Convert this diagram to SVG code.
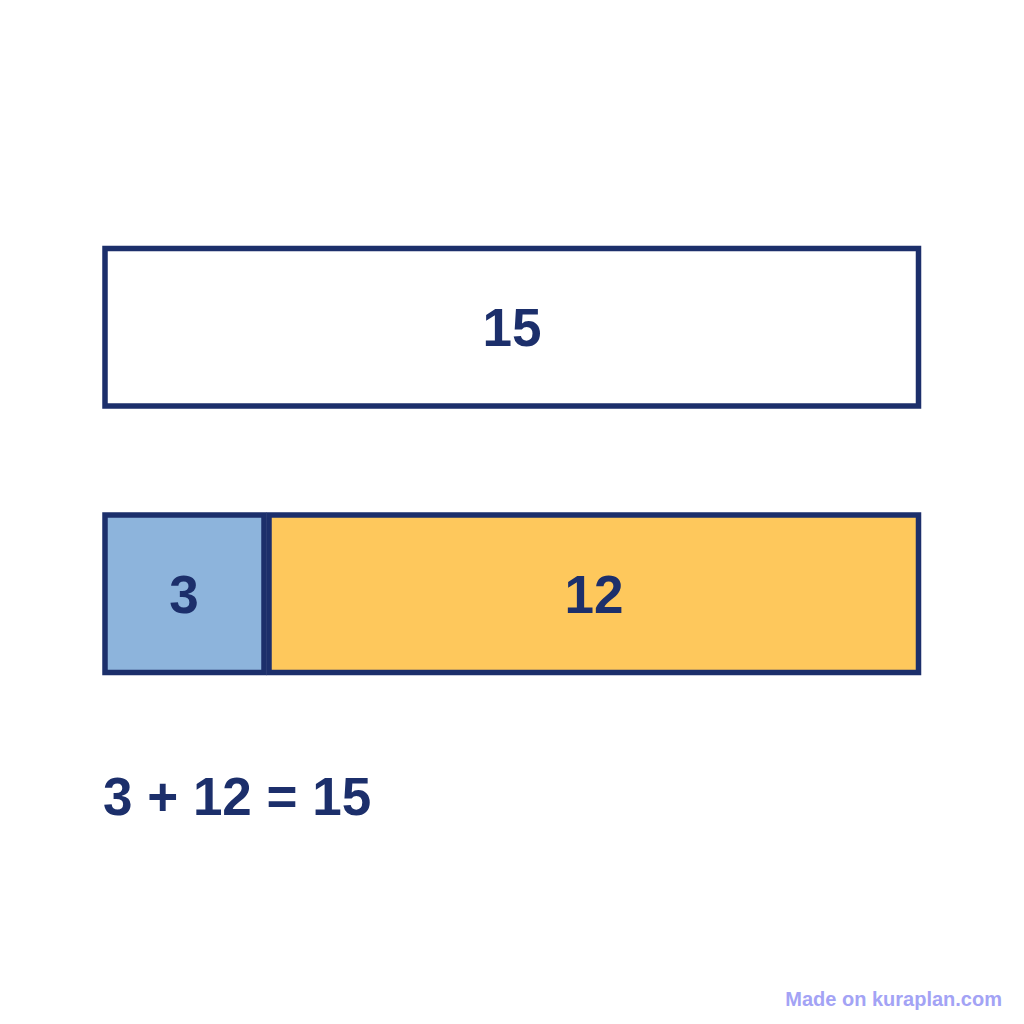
<svg xmlns="http://www.w3.org/2000/svg" width="1024" height="1024" viewBox="0 0 1024 1024">
<style>
.box{stroke:#1c2f6b;stroke-width:5.5}
.lbl{font-family:"Liberation Sans",Arial,sans-serif;font-weight:bold;font-size:53px;fill:#1c2f6b}
</style>
<rect width="1024" height="1024" fill="#ffffff"/>
<g id="whole">
<rect class="box" x="105" y="248.5" width="813.5" height="157.5" fill="#ffffff"/>
<text class="lbl" x="512" y="346" text-anchor="middle">15</text>
</g>
<g id="part-3">
<rect class="box" x="105" y="515" width="159" height="157.5" fill="#8db4dc"/>
<text class="lbl" x="184" y="613" text-anchor="middle">3</text>
</g>
<g id="part-12">
<rect class="box" x="269" y="515" width="649.5" height="157.5" fill="#fec85c"/>
<text class="lbl" x="594" y="613" text-anchor="middle">12</text>
</g>
<g id="equation">
<text class="lbl" x="103" y="815">3 + 12 = 15</text>
</g>
<text x="1002" y="1006" text-anchor="end" font-family="Liberation Sans,Arial,sans-serif" font-weight="bold" font-size="20" fill="#a3a3f5">Made on kuraplan.com</text>
</svg>
